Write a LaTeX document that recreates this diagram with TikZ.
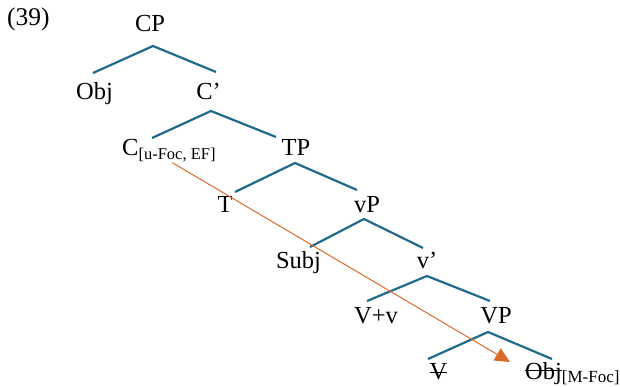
\documentclass[tikz,border=0pt]{standalone}
\usepackage{fontspec}
\setmainfont{Liberation Serif}
\usetikzlibrary{arrows.meta}
\newsavebox\strkbox
\newcommand\strk[2]{\sbox\strkbox{#2}\rlap{\rule[#1]{\wd\strkbox}{1.1pt}}\usebox\strkbox}
\definecolor{branch}{HTML}{1F6A8A}
\definecolor{move}{HTML}{DB6B2A}
\begin{document}
\begin{tikzpicture}[x=1pt,y=-1pt,
  lbl/.style={inner sep=0pt, anchor=base, font=\fontsize{24.5}{28}\selectfont},
  subs/.style={font=\fontsize{16.5}{18}\selectfont},
  br/.style={draw=branch, line width=2.2pt},
  mv/.style={draw=move, line width=1pt, -{Triangle[length=15pt,width=14pt]}}]
\useasboundingbox (0,0) rectangle (620,387);

\node[lbl, anchor=base west, font=\fontsize{25.5}{28}\selectfont] (ex) at (7,26) {(39)};

\node[lbl] (cp) at (150,32) {CP};
\node[lbl] (obj) at (94.5,100) {Obj};
\node[lbl] (cbar) at (208.5,100) {C’};
\node[lbl, anchor=base west] (c) at (122,156) {C\raisebox{-3.5pt}{\fontsize{16.5}{18}\selectfont[u-Foc, EF]}};
\node[lbl] (tp) at (296,156) {TP};
\node[lbl] (t) at (225,212) {T};
\node[lbl] (vp) at (367,212) {vP};
\node[lbl] (subj) at (298.5,268) {Subj};
\node[lbl] (vbar) at (427,268) {v’};
\node[lbl] (vv) at (376,323) {V+v};
\node[lbl] (bigvp) at (496,323) {VP};
\node[lbl] (v) at (438.5,379) {\strk{6pt}{V}};
\node[lbl, anchor=base west] (objf) at (525,379) {\strk{8pt}{Obj}\raisebox{-3pt}{\fontsize{17}{18}\selectfont[M-Foc]}};

% branch points
\coordinate (cp-a) at (153,46);  \coordinate (cp-l) at (93,73);   \coordinate (cp-r) at (216,72);
\coordinate (cb-a) at (211,111); \coordinate (cb-l) at (152,138); \coordinate (cb-r) at (276,137);
\coordinate (tp-a) at (295,163); \coordinate (tp-l) at (235,192); \coordinate (tp-r) at (357,190);
\coordinate (vp-a) at (364,219); \coordinate (vp-l) at (310,247); \coordinate (vp-r) at (423,248);
\coordinate (vb-a) at (427,276); \coordinate (vb-l) at (367,301); \coordinate (vb-r) at (490,301);
\coordinate (bp-a) at (488,332); \coordinate (bp-l) at (428,359); \coordinate (bp-r) at (552,359);

\draw[br] (cp-l) -- (cp-a) -- (cp-r);
\draw[br] (cb-l) -- (cb-a) -- (cb-r);
\draw[br] (tp-l) -- (tp-a) -- (tp-r);
\draw[br] (vp-l) -- (vp-a) -- (vp-r);
\draw[br] (vb-l) -- (vb-a) -- (vb-r);
\draw[br] (bp-l) -- (bp-a) -- (bp-r);

\coordinate (tip) at (510,362);
\draw[mv] ([xshift=3.5pt,yshift=-0.5pt]c.south) -- (tip);
\end{tikzpicture}
\end{document}
